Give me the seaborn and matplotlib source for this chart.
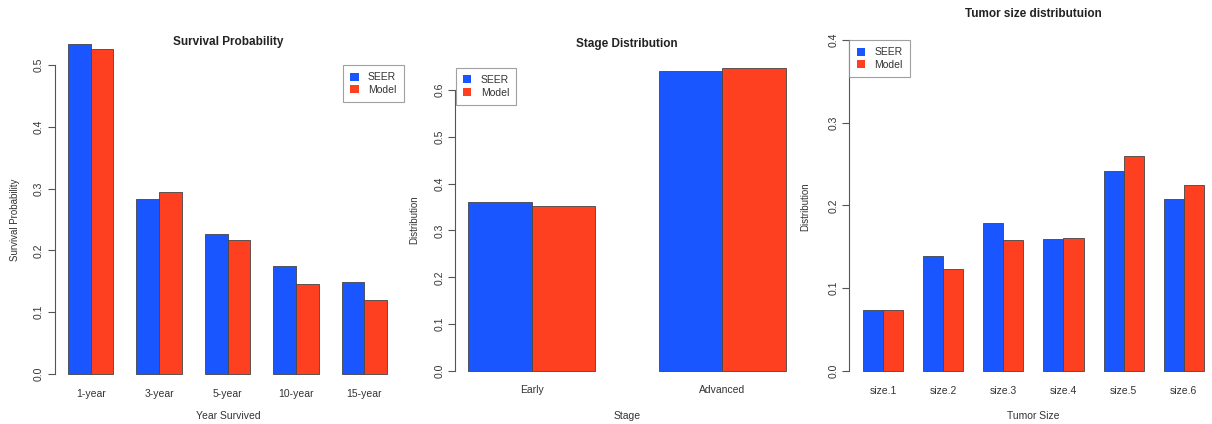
import numpy as np
import pandas as pd
import matplotlib
matplotlib.use("Agg")
import matplotlib.pyplot as plt
from matplotlib.patches import Patch
import seaborn as sns

# ---- data ----
years = ["1-year", "3-year", "5-year", "10-year", "15-year"]
surv_seer = [0.534, 0.284, 0.227, 0.175, 0.149]
surv_model = [0.527, 0.295, 0.216, 0.145, 0.119]

stages = ["Early", "Advanced"]
stage_seer = [0.360, 0.640]
stage_model = [0.353, 0.647]

sizes = ["size.1", "size.2", "size.3", "size.4", "size.5", "size.6"]
size_seer = [0.073, 0.139, 0.179, 0.159, 0.241, 0.208]
size_model = [0.074, 0.123, 0.158, 0.160, 0.260, 0.225]

series_names = ["SEER", "Model"]
palette = {"SEER": "#1A56FF", "Model": "#FF4020"}

sns.set_theme(style="white")
plt.rcParams["font.family"] = ["Liberation Sans", "DejaVu Sans"]
TXT = "#333333"

W, H = 1212, 424
fig = plt.figure(figsize=(W / 100, H / 100), dpi=100)
fig.patch.set_facecolor("white")


def px_axes(x0, x1, y0, y1):
    return fig.add_axes([x0 / W, 1 - y1 / H, (x1 - x0) / W, (y1 - y0) / H])


def long_df(cats, a, b):
    return pd.DataFrame({
        "cat": cats * 2,
        "series": [series_names[0]] * len(cats) + [series_names[1]] * len(cats),
        "value": list(a) + list(b),
    })


def panel(ax, cats, a, b, ytop, yticks):
    df = long_df(cats, a, b)
    sns.barplot(data=df, x="cat", y="value", hue="series", order=cats,
                hue_order=series_names, palette=palette, width=2 / 3,
                gap=0, saturation=1, edgecolor="#444444", linewidth=0.6,
                legend=False, ax=ax, errorbar=None)
    n = len(cats)
    span = n - 1 + 2 / 3
    ax.set_xlim(-1 / 3 - 0.04 * span, n - 1 + 1 / 3 + 0.04 * span)
    ax.set_ylim(-0.04 * ytop, 1.04 * ytop)
    for s in ["top", "right", "bottom"]:
        ax.spines[s].set_visible(False)
    ax.spines["left"].set_color("#555555")
    ax.spines["left"].set_linewidth(0.8)
    ax.spines["left"].set_bounds(yticks[0], yticks[-1])
    ax.set_yticks(yticks)
    ax.set_yticklabels([f"{t:.1f}" for t in yticks], rotation=90, va="center",
                       fontsize=7.5, color=TXT)
    ax.tick_params(axis="y", left=True, length=5, width=0.8, color="#555555",
                   pad=3)
    ax.tick_params(axis="x", bottom=False, length=0, labelsize=7.5,
                   labelcolor=TXT, pad=1.5)
    ax.set_xlabel("")
    ax.set_ylabel("")
    ax.set_facecolor("white")


def legend_at(ax, x, y):
    handles = [Patch(facecolor=palette[s], edgecolor="none") for s in series_names]
    leg = ax.legend(handles, series_names, loc="upper left",
                    bbox_to_anchor=(x / W, 1 - y / H),
                    bbox_transform=fig.transFigure, frameon=True,
                    fancybox=False, fontsize=7.5, handlelength=0.8,
                    handleheight=0.8, handletextpad=0.9, borderpad=0.7,
                    labelspacing=0.25, borderaxespad=0)
    leg.get_frame().set_edgecolor("#888888")
    leg.get_frame().set_linewidth(0.8)
    for t in leg.get_texts():
        t.set_color(TXT)


# Survival probability
ax1 = px_axes(55, 400, 31, 387)
panel(ax1, years, surv_seer, surv_model, max(surv_seer + surv_model),
      [0.0, 0.1, 0.2, 0.3, 0.4, 0.5])
legend_at(ax1, 343, 65)
fig.text(228 / W, 1 - 42 / H, "Survival Probability", ha="center", va="center",
         fontsize=8.5, fontweight="bold", color="#222222")
fig.text(15 / W, 1 - 220 / H, "Survival Probability", rotation=90, ha="center",
         va="center", fontsize=7, color=TXT)
fig.text(228 / W, 1 - 416 / H, "Year Survived", ha="center", va="center",
         fontsize=7.5, color=TXT)

# Stage distribution
ax2 = px_axes(455.3, 798.7, 56, 383)
panel(ax2, stages, stage_seer, stage_model, max(stage_seer + stage_model),
      [0.0, 0.1, 0.2, 0.3, 0.4, 0.5, 0.6])
legend_at(ax2, 455.7, 67.7)
fig.text(627 / W, 1 - 44 / H, "Stage Distribution", ha="center", va="center",
         fontsize=8.5, fontweight="bold", color="#222222")
fig.text(414 / W, 1 - 220 / H, "Distribution", rotation=90, ha="center",
         va="center", fontsize=7, color=TXT)
fig.text(627 / W, 1 - 416 / H, "Stage", ha="center", va="center",
         fontsize=7.5, color=TXT)

# Tumor size distribution
ax3 = px_axes(849.3, 1217.5, 26.8, 384)
panel(ax3, sizes, size_seer, size_model, 0.4,
      [0.0, 0.1, 0.2, 0.3, 0.4])
legend_at(ax3, 849.3, 40)
fig.text(1033 / W, 1 - 14 / H, "Tumor size distributuion", ha="center",
         va="center", fontsize=8.5, fontweight="bold", color="#222222")
fig.text(805 / W, 1 - 207 / H, "Distribution", rotation=90, ha="center",
         va="center", fontsize=7, color=TXT)
fig.text(1033 / W, 1 - 415.7 / H, "Tumor Size", ha="center", va="center",
         fontsize=7.5, color=TXT)

fig.savefig("out.png", dpi=100, facecolor="white")
